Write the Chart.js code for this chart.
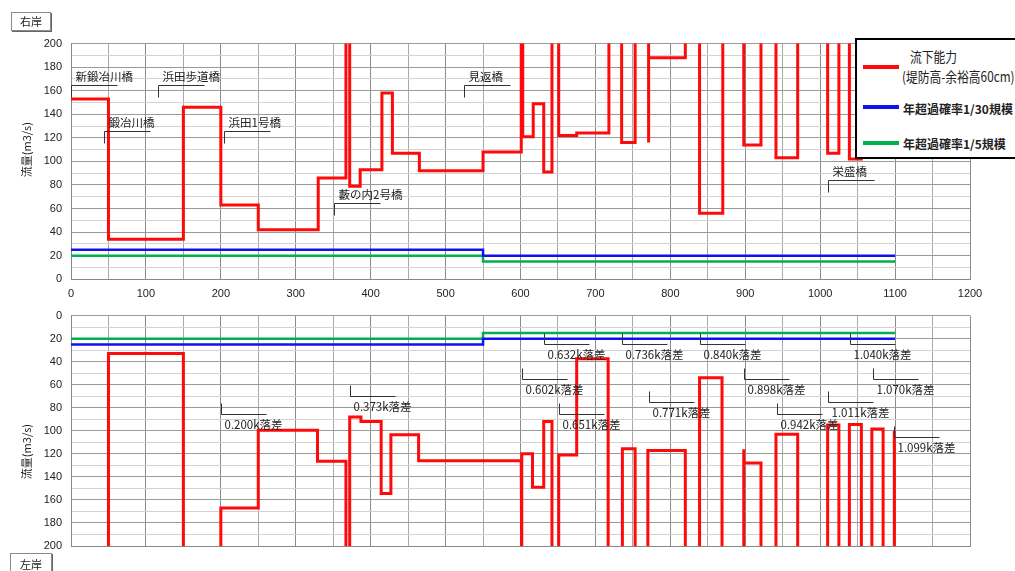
<!DOCTYPE html>
<html>
<head>
<meta charset="utf-8">
<script src="https://cdn.jsdelivr.net/npm/chart.js@4/dist/chart.umd.min.js"></script>
<style>
  html, body { margin:0; padding:0; background:#fff; }
  body { width:1015px; height:571px; overflow:hidden; position:relative;
         font-family:"Noto Sans CJK JP","Liberation Sans",sans-serif; color:#222; }
  #rightCv { position:absolute; left:0; top:0; }
  #leftCv  { position:absolute; left:0; top:300px; }
  .bank { position:absolute; box-sizing:border-box; border:1px solid #8a8a8a;
          box-shadow:1px 1px 0 #666; background:#fff; font-size:11px;
          text-align:center; color:#222; }
  #legendBox { position:absolute; left:855px; top:38px; width:180px; height:121px;
               box-sizing:border-box; border:2px solid #000; background:#fff; }
  #legendBox .sw { position:absolute; left:6px; width:36px; height:4px; }
  #legendBox .tx { position:absolute; white-space:nowrap; line-height:16px; transform-origin:left center; }
</style>
</head>
<body>
<canvas id="rightCv" width="1015" height="300"></canvas>
<canvas id="leftCv" width="1015" height="271"></canvas>

<div class="bank" style="left:11px;top:12px;width:40px;height:19px;line-height:17px;">右岸</div>
<div class="bank" style="left:10px;top:553px;width:42px;height:22px;line-height:20px;">左岸</div>

<div id="legendBox">
  <div class="sw" style="top:25px;background:#ff0a0a;"></div>
  <div class="tx" style="left:53px;top:8px;font-size:14px;transform:scaleX(0.84);">流下能力</div>
  <div class="tx" style="left:45px;top:28px;font-size:14px;transform:scaleX(0.84);">(堤防高-余裕高60cm)</div>
  <div class="sw" style="top:65px;background:#1010f0;"></div>
  <div class="tx" style="left:46px;top:61px;font-size:12px;font-weight:bold;">年超過確率1/30規模</div>
  <div class="sw" style="top:101px;background:#00b050;"></div>
  <div class="tx" style="left:46px;top:96px;font-size:12px;font-weight:bold;">年超過確率1/5規模</div>
</div>

<script>
// ---- data ----------------------------------------------------------------
// distance along the channel (m)
const distanceTicks = [0, 100, 200, 300, 400, 500, 600, 700, 800, 900, 1000, 1100, 1200];

// flow capacity, right bank (m3/s); 230 = beyond the top of the scale
const rightBankCapacity = [
  [0,153],[50,153],[50,34],[150,34],[150,146],[200,146],[200,63],[250,63],[250,42],
  [330,42],[330,86],[367,86],[367,230],[372,230],[372,79],[386,79],[386,93],[415,93],
  [415,158],[429,158],[429,107],[465,107],[465,92],[550,92],[550,108],[601,108],
  [601,230],[603,230],[603,121],[617,121],[617,149],[631,149],[631,91],[642,91],
  [642,230],[651,230],[651,122],[675,122],[675,124],[718,124],[718,230],[735,230],
  [735,116],[753,116],[753,230],[771,230],[771,116],[771,188],[820,188],[820,230],
  [839,230],[839,56],[870,56],[870,230],[898,230],[898,114],[921,114],[921,230],
  [941,230],[941,103],[970,103],[970,230],[1010,230],[1010,107],[1025,107],[1025,230],
  [1039,230],[1039,102],[1055,102],[1055,230]
];

// flow capacity, left bank (m3/s); 230 = beyond the bottom of the scale
const leftBankCapacity = [
  [50,230],[50,33],[150,33],[150,230],[200,230],[200,167],[250,167],[250,99.5],
  [329,99.5],[329,126.5],[367,126.5],[367,230],[372,230],[372,88],[387,88],[387,92],
  [414,92],[414,154.5],[427,154.5],[427,103.5],[464,103.5],[464,126],[601,126],
  [601,230],[602,230],[602,120],[616,120],[616,149],[631,149],[631,92],[642,92],
  [642,230],[651,230],[651,121],[675,121],[675,37.5],[717,37.5],[717,230],[736,230],
  [736,115.5],[753,115.5],[753,230],[770,230],[770,117],[820,117],[820,230],[839,230],
  [839,54],[869,54],[869,230],[898,230],[898,116],[898,128],[921,128],[921,230],
  [941,230],[941,103],[970,103],[970,230],[1010,230],[1010,95],[1025,95],[1025,230],
  [1039,230],[1039,94.5],[1055,94.5],[1055,230],[1069,230],[1069,98.5],[1084,98.5],
  [1084,230],[1099,230],[1099,100]
];

// design discharges (m3/s)
const flow30Year = [[0,25],[550,25],[550,20],[1100,20]];
const flow5Year  = [[0,20],[550,20],[550,15],[1100,15]];

// bridges (right bank panel)
const bridgeNames = ['新鍛冶川橋','鍛冶川橋','浜田歩道橋','浜田1号橋','藪の内2号橋','見返橋','栄盛橋'];
const bridgeDist  = [0, 44, 116, 204, 351, 525, 1010];
const bridgeLevel = [165, 126, 165, 126, 65, 165, 84];

// drop structures (left bank panel)
const dropNames = ['0.200k落差','0.373k落差','0.602k落差','0.632k落差','0.651k落差','0.736k落差','0.771k落差',
                   '0.840k落差','0.898k落差','0.942k落差','1.011k落差','1.040k落差','1.070k落差','1.099k落差'];
const dropDist  = [200, 373, 602, 632, 651, 736, 771, 840, 898, 942, 1011, 1040, 1070, 1099];
const dropLevel = [85, 70, 55, 25, 85, 25, 75, 25, 55, 85, 75, 25, 55, 105];

// ---- drawing -------------------------------------------------------------
const pts = arr => arr.map(([x, y]) => ({x, y}));
const tickFont = {family: '"Liberation Sans","Noto Sans CJK JP",sans-serif', size: 11};

function markerPlugin(names, dist, level, below, titleFrac) {
  return {
    id: 'markers',
    afterDatasetsDraw(chart) {
      const {ctx, chartArea, scales: {x, y}} = chart;
      ctx.save();
      ctx.strokeStyle = '#333';
      ctx.lineWidth = 1;
      ctx.fillStyle = '#222';
      ctx.font = '11.5px "Noto Sans CJK JP", sans-serif';
      ctx.textAlign = 'left';
      ctx.textBaseline = 'middle';
      names.forEach((name, i) => {
        const px = Math.round(x.getPixelForValue(dist[i])) + 0.5;
        const py = Math.round(y.getPixelForValue(level[i])) + 0.5;
        ctx.beginPath();
        if (below) {
          ctx.moveTo(px, py - 11); ctx.lineTo(px, py); ctx.lineTo(px + 45, py);
        } else {
          ctx.moveTo(px, py + 12); ctx.lineTo(px, py); ctx.lineTo(px + 46, py);
        }
        ctx.stroke();
        if (below) ctx.fillText(name, px + 3, py + 10);
        else ctx.fillText(name, px + 4, py - 9);
      });
      // y-axis title
      ctx.translate(27, chartArea.top + titleFrac * (chartArea.bottom - chartArea.top));
      ctx.rotate(-Math.PI / 2);
      ctx.textAlign = 'center';
      ctx.font = '11px "Noto Sans CJK JP", sans-serif';
      ctx.fillText('流量(m3/s)', 0, 0);
      ctx.restore();
    }
  };
}

function makeChart(canvas, capacity, reversed, showX, pad, xHeight, plugin) {
  return new Chart(canvas, {
    type: 'line',
    data: {
      datasets: [
        {data: pts(capacity), borderColor: '#ff0a0a', borderWidth: 3},
        {data: pts(flow30Year), borderColor: '#1010f0', borderWidth: 2.5},
        {data: pts(flow5Year), borderColor: '#00b050', borderWidth: 2.5}
      ]
    },
    options: {
      responsive: false,
      animation: false,
      events: [],
      layout: {padding: pad},
      elements: {point: {radius: 0}, line: {tension: 0, borderJoinStyle: 'miter', borderCapStyle: 'butt'}},
      plugins: {legend: {display: false}, tooltip: {enabled: false}},
      scales: {
        x: {
          type: 'linear', min: 0, max: 1200,
          afterFit: s => { s.height = xHeight; },
          afterBuildTicks: s => {
            const t = [];
            for (let v = 0; v <= 1200; v += 50) t.push({value: v});
            s.ticks = t;
          },
          ticks: {
            display: showX, padding: 8, color: '#222', font: tickFont, maxRotation: 0, autoSkip: false,
            callback: v => distanceTicks.includes(v) ? String(v) : ''
          },
          grid: {drawTicks: false, color: c => (c.tick && c.tick.value % 100 === 0) ? '#8c8c8c' : '#a8a8a8'},
          border: {color: '#888'}
        },
        y: {
          type: 'linear', min: 0, max: 200, reverse: reversed,
          afterFit: s => { s.width = 71; },
          ticks: {
            stepSize: 10, padding: 9, color: '#222', font: tickFont, autoSkip: false,
            callback: v => v % 20 === 0 ? String(v) : ''
          },
          grid: {drawTicks: false, color: c => (c.tick && c.tick.value % 20 === 0) ? '#9a9a9a' : '#d2d2d2'},
          border: {color: '#888'}
        }
      }
    },
    plugins: [plugin]
  });
}

makeChart(document.getElementById('rightCv'), rightBankCapacity, false, true,
  {top: 43.5, right: 45, left: 0, bottom: 0}, 20.7,
  markerPlugin(bridgeNames, bridgeDist, bridgeLevel, false, 0.45));

makeChart(document.getElementById('leftCv'), leftBankCapacity, true, false,
  {top: 7.3, right: 45, left: 0, bottom: 0}, 25,
  markerPlugin(dropNames, dropDist, dropLevel, true, 0.59));
</script>
</body>
</html>
